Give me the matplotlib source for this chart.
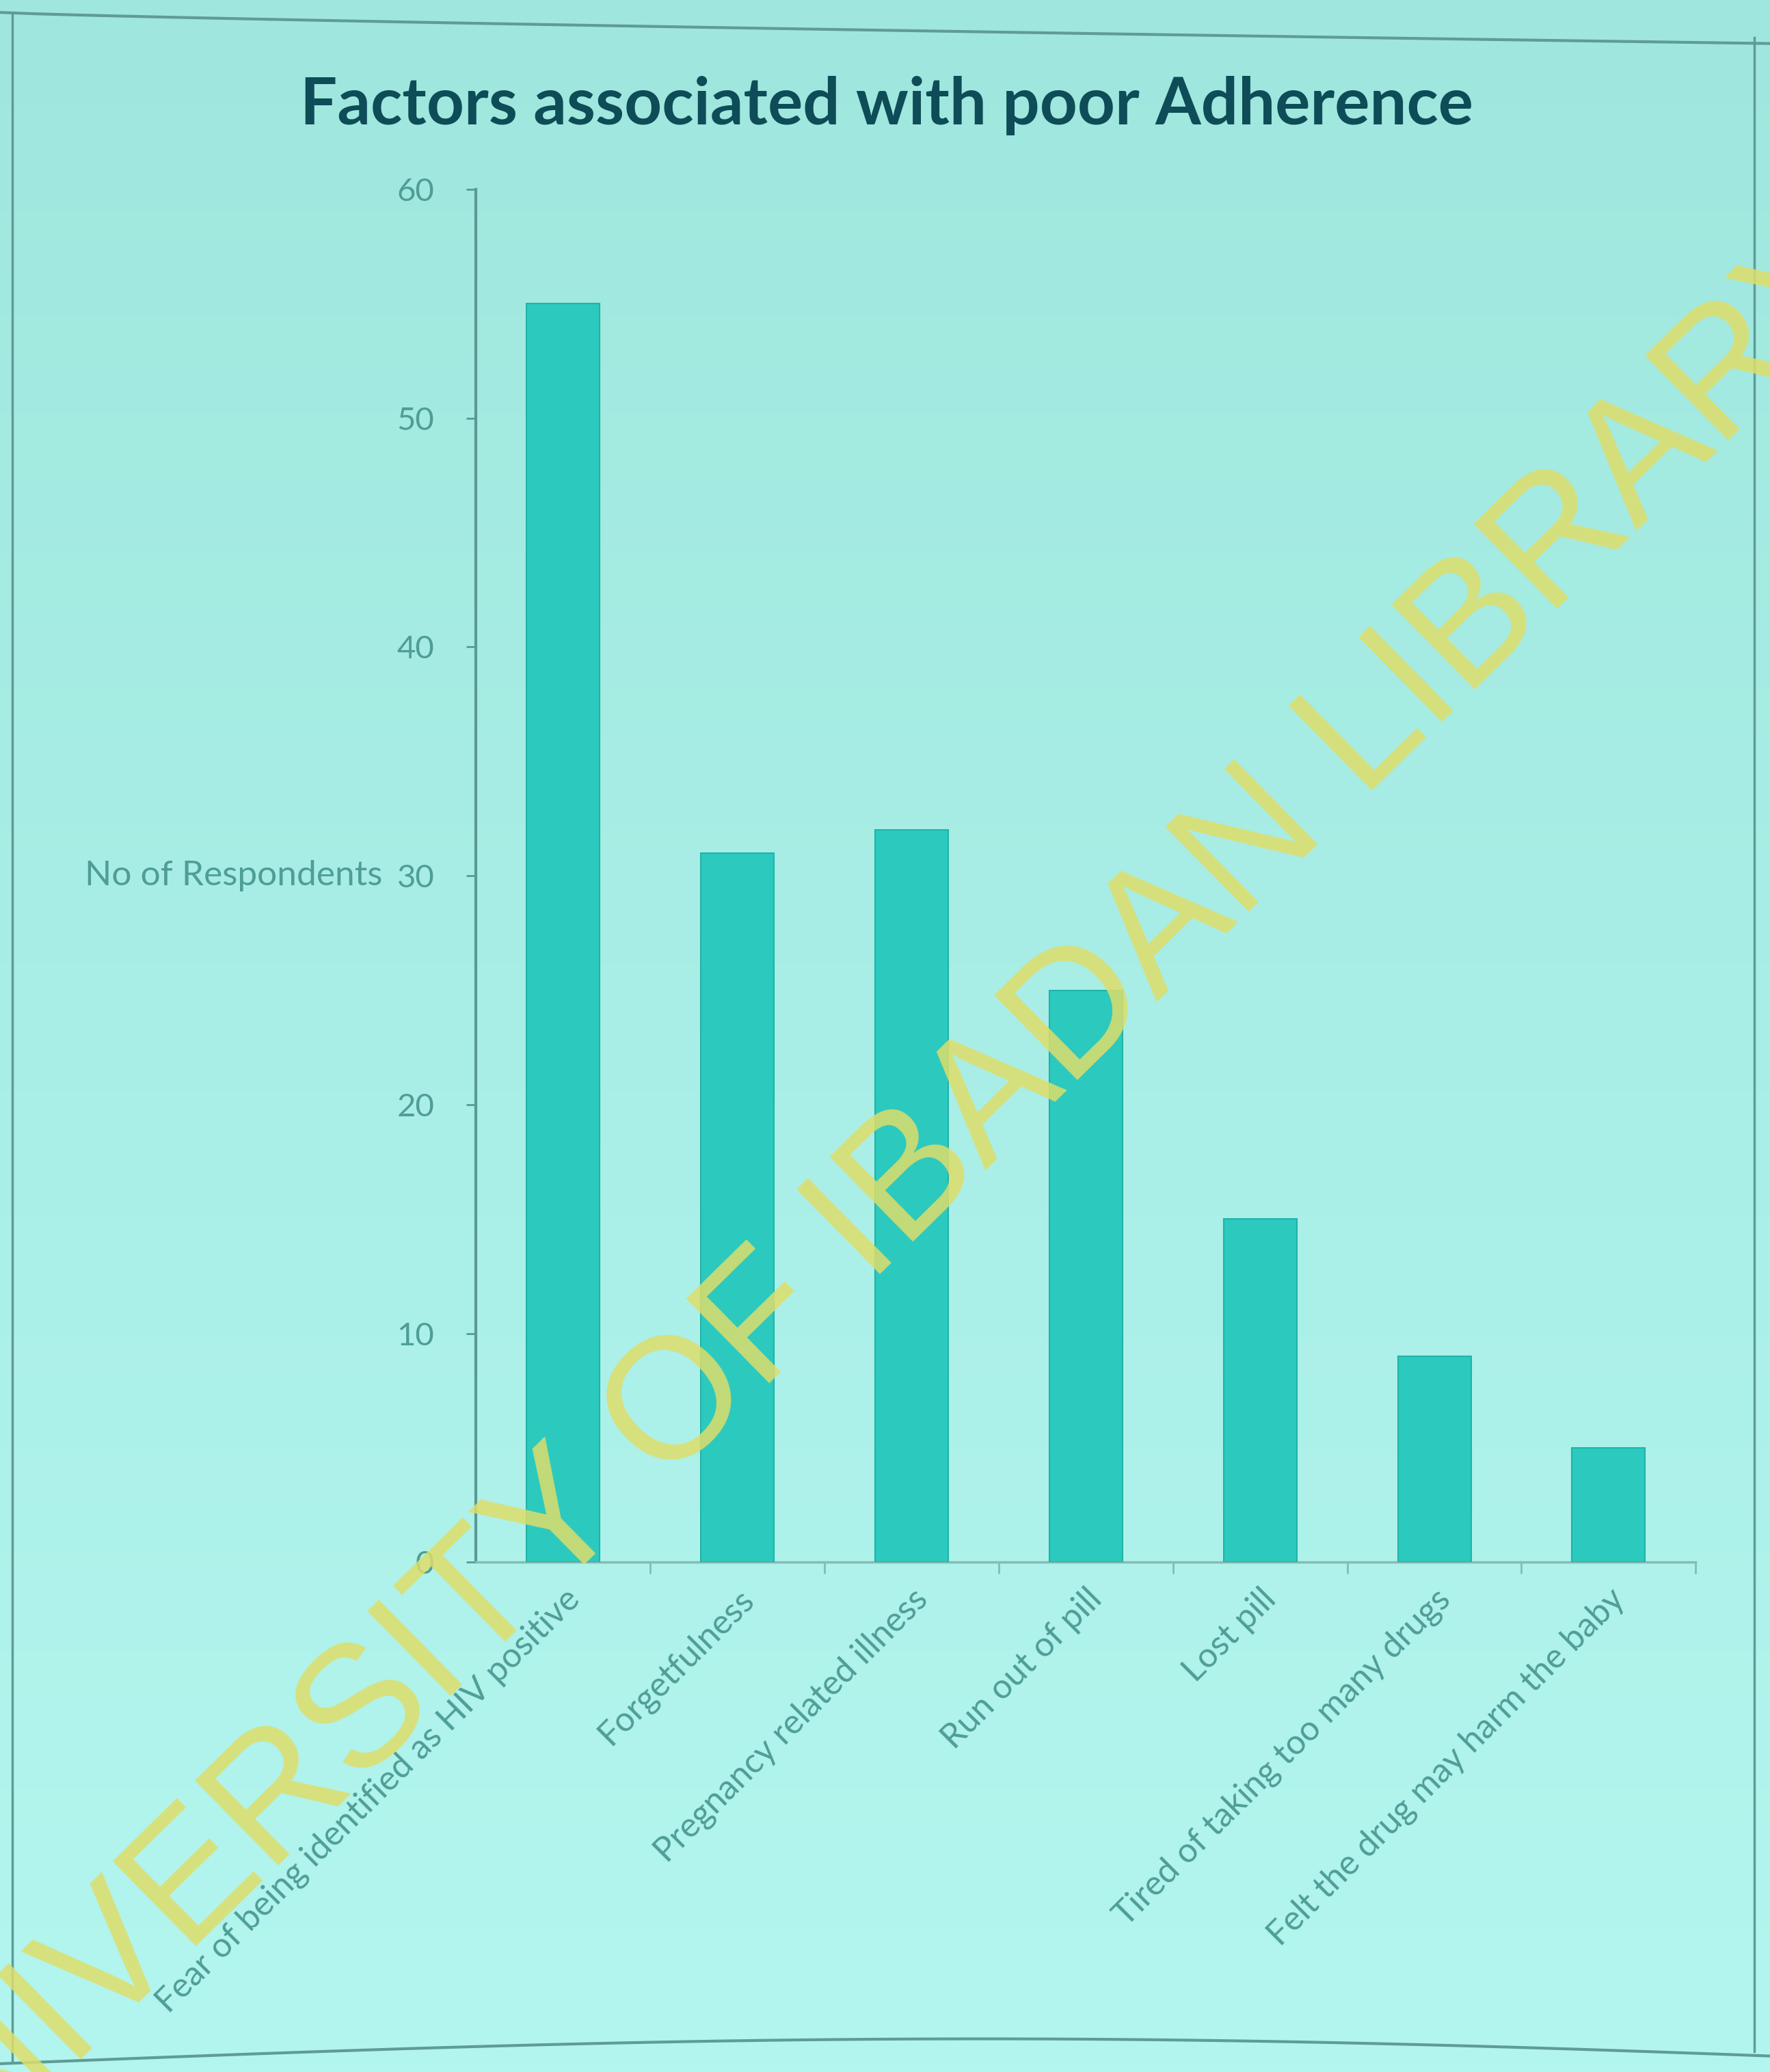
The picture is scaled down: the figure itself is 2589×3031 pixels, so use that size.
import numpy as np
import matplotlib
matplotlib.use("Agg")
import matplotlib.pyplot as plt
from matplotlib.lines import Line2D
from matplotlib.colors import LinearSegmentedColormap

# ---- data ----
categories = [
    "Fear of being identified as HIV positive",
    "Forgetfulness",
    "Pregnancy related illness",
    "Run out of pill",
    "Lost pill",
    "Tired of taking too many drugs",
    "Felt the drug may harm the baby",
]
respondents = [55, 31, 32, 25, 15, 9, 5]
y_ticks = [0, 10, 20, 30, 40, 50, 60]
title = "Factors associated with poor Adherence"
y_label = "No of Respondents"
watermark = "UNIVERSITY OF IBADAN LIBRARY"

FONT = ["Lato", "DejaVu Sans"]
plt.rcParams["font.family"] = FONT

W, H = 2589, 3031
fig = plt.figure(figsize=(W / 100, H / 100), dpi=100)

# background gradient
bg = fig.add_axes([0, 0, 1, 1], zorder=-10)
grad = np.linspace(0, 1, 256).reshape(-1, 1)
cmap = LinearSegmentedColormap.from_list("bg", ["#9fe7de", "#b3f6ef"])
bg.imshow(grad, aspect="auto", cmap=cmap, extent=[0, 1, 0, 1], origin="upper")
bg.set_xlim(0, 1)
bg.set_ylim(0, 1)
bg.axis("off")

# slide frame lines
frame_col = "#5f9b97"
fig.add_artist(Line2D([0.007, 0.007], [0.005, 0.993], color=frame_col, lw=2.5, transform=fig.transFigure))
fig.add_artist(Line2D([0.991, 0.991], [0.01, 0.982], color=frame_col, lw=2.5, transform=fig.transFigure))
tx = np.linspace(0, 1, 50)
fig.add_artist(Line2D(tx, 0.994 - 0.015 * tx ** 0.8, color=frame_col, lw=3, transform=fig.transFigure))
fig.add_artist(Line2D(tx, 0.004 + 0.012 * np.sin(np.pi * tx * 0.9), color=frame_col, lw=3, transform=fig.transFigure))

ax = fig.add_axes([0.269, 0.246, 0.958 - 0.269, 0.9086 - 0.246])
ax.patch.set_alpha(0)

x = np.arange(len(categories))
ax.bar(x, respondents, width=0.42, color="#2cc9be", edgecolor="#1fb3a9", linewidth=1.5, zorder=3)

ax.set_xlim(-0.5, len(categories) - 0.5)
ax.set_ylim(0, 60)
ax.set_yticks(y_ticks)
ax.set_yticklabels([str(t) for t in y_ticks], fontsize=34, color="#4f9d97")
ax.tick_params(axis="y", length=10, width=2, color="#5a9994", pad=34)

ax.set_xticks(x)
ax.set_xticklabels(categories, rotation=45, ha="right", va="top", rotation_mode="anchor",
                   fontsize=36, color="#4f9d97")
ax.tick_params(axis="x", length=0, pad=22)
ax.set_xticks(np.arange(-0.5, len(categories) + 0.5, 1.0)[1:], minor=True)
ax.tick_params(axis="x", which="minor", length=12, width=2, color="#86bbb5")

for s in ["top", "right"]:
    ax.spines[s].set_visible(False)
ax.spines["left"].set_color("#5a9994")
ax.spines["left"].set_linewidth(3)
ax.spines["bottom"].set_color("#86bbb5")
ax.spines["bottom"].set_linewidth(2.5)

# y label drawn horizontally at the level of 30
ax.text(-0.077, 30, y_label, transform=ax.get_yaxis_transform(), ha="right", va="center",
        fontsize=37, color="#4f9d97")

fig.text(0.501, 0.949, title, ha="center", va="center", fontsize=69, fontweight="bold",
         color="#0e4c57")

# watermark
fig.text(0.485, 0.405, watermark, ha="center", va="center", rotation=44.5, fontsize=182,
         family=["Liberation Sans", "DejaVu Sans"], color="#dede6a", alpha=0.85, zorder=20)

fig.savefig("out.png", dpi=100)
